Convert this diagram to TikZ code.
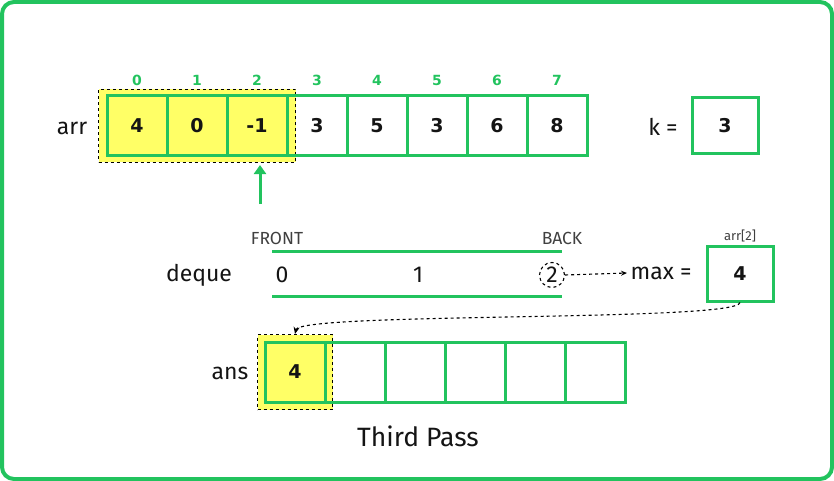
\documentclass[tikz,border=0pt]{standalone}
\usepackage{fontspec}
\setmainfont{Fira Sans}
\newfontfamily\numfont{DejaVu Sans}
\usetikzlibrary{arrows.meta,fit,backgrounds}
\definecolor{G}{RGB}{34,195,94}
\definecolor{Y}{RGB}{255,255,102}
\definecolor{TX}{RGB}{20,20,20}
\tikzset{
  cell/.style={rectangle, draw=G, line width=3pt, minimum width=60pt, minimum height=60pt, inner sep=0pt,
     font=\numfont\bfseries\fontsize{19}{19}\selectfont, text=TX},
  ycell/.style={cell, fill=Y},
  idx/.style={font=\numfont\bfseries\fontsize{14}{14}\selectfont, text=G},
  lbl/.style={font=\fontsize{23}{23}\selectfont, text=TX},
  small/.style={font=\fontsize{17.5}{17.5}\selectfont, text=black!75},
  hl/.style={draw=black, dashed, line width=1.1pt, fill=Y},
  dig/.style={font=\fontsize{23}{23}\selectfont, text=TX},
}
\begin{document}
\begin{tikzpicture}[x=1pt,y=-1pt]
\useasboundingbox (0,0) rectangle (834,481);
\draw[G, line width=4pt, rounded corners=12pt] (2,2) rectangle (832,479);
% arr
\node[lbl] (arrlbl) at (72,128) {arr};
\foreach \i/\v in {0/4,1/0,2/-1} {
  \node[ycell] (a\i) at ({137+60*\i},126) {\v};
}
\foreach \i/\v in {3/3,4/5,5/3,6/6,7/8} {
  \node[cell] (a\i) at ({137+60*\i},126) {\v};
}
\foreach \i in {0,...,7} {
  \node[idx] (i\i) at ({137+60*\i},80) {\i};
}
\begin{scope}[on background layer]
  \node[hl, inner xsep=7pt, inner ysep=5pt, fit=(a0)(a2)] (hla) {};
\end{scope}
\coordinate (arrtail) at (260,204);
\coordinate (arrtip) at (260,165);
\draw[G, line width=3pt, -{Triangle[length=9pt,width=12pt]}] (arrtail) -- (arrtip);
% k
\node[lbl] (klbl) at (663,127) {k =};
\node[cell, minimum width=66pt, minimum height=56pt] (kbox) at (725,126) {3};
% deque
\node[lbl] (dlbl) at (199,275) {deque};
\coordinate (t1) at (272,251); \coordinate (t2) at (562,251);
\coordinate (b1) at (272,296); \coordinate (b2) at (562,296);
\draw[G, line width=3pt] (t1) -- (t2);
\draw[G, line width=3pt] (b1) -- (b2);
\node[small] (front) at (277,238) {FRONT};
\node[small] (back) at (562,238) {BACK};
\node[dig] (d0) at (282,275) {0};
\node[dig] (d1) at (418,275) {1};
\node[dig, circle, draw=black, dashed, line width=1.1pt, minimum size=25pt, inner sep=0pt] (d2) at (552,275) {2};
\node[lbl, anchor=west] (mx) at (627,273) {max =};
\draw[dashed, line width=1.1pt, -{Stealth[length=6pt,width=5pt]}] (d2.east) -- (mx.west);
\node[small, font=\fontsize{13}{13}\selectfont] (arr2) at (740,236) {arr[2]};
\node[cell, minimum width=66pt, minimum height=55pt] (mb) at (740,273.5) {4};
% ans
\node[lbl] (anslbl) at (230,373) {ans};
\node[ycell] (s0) at (295,372) {4};
\foreach \i in {1,...,5} {
  \node[cell] (s\i) at ({295+60*\i},372) {};
}
\begin{scope}[on background layer]
  \node[hl, inner sep=6pt, fit=(s0)] (hls) {};
\end{scope}
\draw[dashed, line width=1.1pt, -{Stealth[length=7pt,width=6pt]}] (mb.south) .. controls (738,322) and (300,312) .. (hls.north);
\node[lbl, font=\fontsize{26.5}{26.5}\selectfont] (title) at (418,436) {Third Pass};
\end{tikzpicture}
\end{document}
